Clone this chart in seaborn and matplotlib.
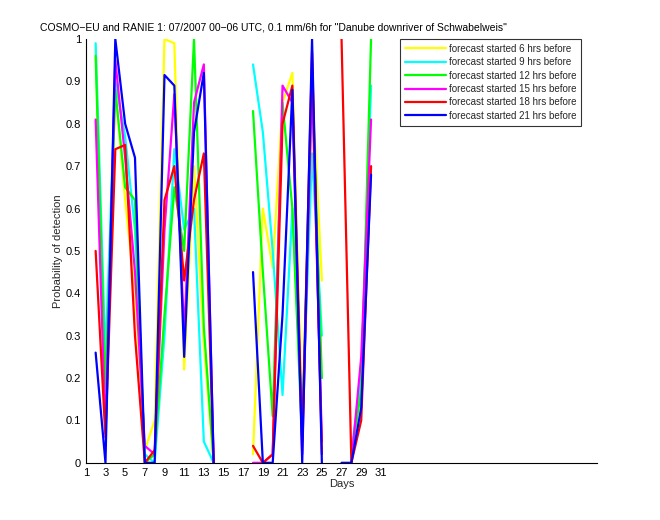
import numpy as np
import pandas as pd
import matplotlib
matplotlib.use("Agg")
import matplotlib.pyplot as plt
import seaborn as sns

# ---------------------------------------------------------------------
# data (NaN = no value that day)
# ---------------------------------------------------------------------
nan = np.nan
days = list(range(1, 32))

lead_labels = ["forecast started 6 hrs before", "forecast started 9 hrs before",
               "forecast started 12 hrs before", "forecast started 15 hrs before",
               "forecast started 18 hrs before", "forecast started 21 hrs before"]
line_colors = ["#ffff00", "#00ffff", "#00ff00", "#ff00ff", "#ff0000", "#0000ff"]

#            1    2     3     4     5     6     7     8     9     10    11    12    13    14   15   16   17
pod_06 = [nan, 0.98, 0.15, 0.88, 0.62, 0.40, 0.03, 0.10, 1.00, 0.99, 0.22, 0.70, 0.28, 0.00, nan, nan, nan,
          # 18   19    20    21    22    23    24    25    26   27   28   29   30   31
          0.02, 0.60, 0.46, 0.85, 0.92, 0.10, 0.90, 0.43, nan, nan, nan, nan, nan, nan]
pod_09 = [nan, 0.99, 0.25, 0.90, 0.77, 0.55, 0.02, 0.00, 0.30, 0.74, 0.55, 0.60, 0.05, 0.00, nan, nan, nan,
          0.94, 0.78, 0.50, 0.16, 0.60, 0.10, 0.73, 0.30, nan, nan, 0.03, 0.20, 0.89, nan]
pod_12 = [nan, 0.96, 0.17, 0.88, 0.65, 0.62, 0.00, 0.02, 0.35, 0.65, 0.50, 1.00, 0.32, 0.00, nan, nan, nan,
          0.83, 0.45, 0.11, 0.85, 0.60, 0.05, 0.90, 0.20, nan, nan, 0.02, 0.17, 1.00, nan]
pod_15 = [nan, 0.81, 0.07, 0.95, 0.72, 0.45, 0.04, 0.02, 0.55, 0.87, 0.30, 0.85, 0.94, 0.00, nan, nan, nan,
          0.00, 0.00, 0.02, 0.89, 0.85, 0.02, 0.90, 0.05, nan, nan, 0.00, 0.25, 0.81, nan]
pod_18 = [nan, 0.50, 0.06, 0.74, 0.75, 0.30, 0.00, 0.03, 0.62, 0.70, 0.43, 0.62, 0.73, 0.00, nan, nan, nan,
          0.04, 0.00, 0.02, 0.80, 0.89, 0.05, 0.97, 0.02, nan, 1.00, 0.00, 0.10, 0.70, nan]
pod_21 = [nan, 0.26, 0.00, 1.00, 0.80, 0.72, 0.00, 0.00, 0.915, 0.89, 0.25, 0.78, 0.92, 0.00, nan, nan, nan,
          0.45, 0.00, 0.00, 0.35, 0.88, 0.00, 1.00, 0.00, nan, 0.00, 0.00, 0.13, 0.68, nan]

series = [pod_06, pod_09, pod_12, pod_15, pod_18, pod_21]

# long table, one row per point; contiguous runs get their own unit so the gaps stay open
rows = []
for lab, vals in zip(lead_labels, series):
    seg = 0
    prev_nan = True
    for d, v in zip(days, vals):
        if np.isnan(v):
            prev_nan = True
            continue
        if prev_nan:
            seg += 1
            prev_nan = False
        rows.append({"day": d, "pod": v, "lead": lab, "seg": f"{lab}-{seg}"})
df = pd.DataFrame(rows)

# ---------------------------------------------------------------------
# plot
# ---------------------------------------------------------------------
sns.set_style("white")
plt.rcParams["font.family"] = ["Liberation Sans", "DejaVu Sans"]

fig = plt.figure(figsize=(6.6, 5.2), dpi=100)
ax = fig.add_axes([0.13, 0.11, 0.775, 0.815])

sns.lineplot(data=df, x="day", y="pod", hue="lead", hue_order=lead_labels,
             palette=line_colors, units="seg", estimator=None, sort=False,
             linewidth=1.6, ax=ax)

ax.set_xlim(1, 53)
ax.set_ylim(0, 1)
ax.set_xticks(range(1, 32, 2))
ax.set_yticks(np.round(np.arange(0, 1.01, 0.1), 1))
ax.set_yticklabels(["0", "0.1", "0.2", "0.3", "0.4", "0.5", "0.6", "0.7", "0.8", "0.9", "1"])
ax.tick_params(direction="in", length=4, width=0.8, labelsize=8, colors="black")
ax.set_xlabel("Days", fontsize=8, labelpad=1)
ax.set_ylabel("Probability of detection", fontsize=8, labelpad=2)

for side in ["top", "right"]:
    ax.spines[side].set_visible(False)
for side in ["left", "bottom"]:
    ax.spines[side].set_color("black")
    ax.spines[side].set_linewidth(0.8)

handles, labels = ax.get_legend_handles_labels()
leg = ax.legend(handles, labels, loc="upper right", bbox_to_anchor=(0.968, 1.0),
                fontsize=7, frameon=True, fancybox=False, handlelength=4.2,
                handletextpad=0.3, labelspacing=0.35, borderpad=0.5, borderaxespad=0)
leg.get_frame().set_edgecolor("black")
leg.get_frame().set_linewidth(0.8)
for line in leg.get_lines():
    line.set_linewidth(1.6)

fig.text(40 / 660, 1 - 31 / 520,
         "COSMO\u2212EU and RANIE 1: 07/2007 00\u221206 UTC, 0.1 mm/6h for \"Danube downriver of Schwabelweis\"",
         fontsize=7.5, ha="left", va="baseline", color="black")

fig.savefig("out.png", dpi=100)
